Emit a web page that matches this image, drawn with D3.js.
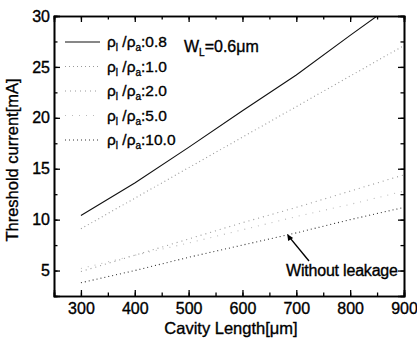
<!DOCTYPE html>
<html><head><meta charset="utf-8">
<script src="https://cdn.jsdelivr.net/npm/d3@7"></script>
<style>body{margin:0;background:#fff}svg{display:block}text{font-family:"Liberation Sans",Arial,sans-serif;fill:#000;stroke:#000;stroke-width:0.35px}</style>
</head><body><svg id="c" width="417" height="343"></svg>
<script>
const lengths = [300, 400, 500, 600, 700, 800, 900];
const s08 = [10.4, 13.6, 17.1, 20.7, 24.2, 28.1, 31.9];
const s10 = [9.1, 12.1, 15.1, 18.1, 21.1, 24.1, 27.1];
const s20 = [4.9, 6.5, 8.1, 9.7, 11.2, 12.8, 14.4];
const s50 = [5.2, 6.5, 7.7, 9.0, 10.3, 11.5, 12.8];
const s100 = [3.8, 5.0, 6.3, 7.5, 8.7, 10.0, 11.2];
const ratioLabels = ["0.8", "1.0", "2.0", "5.0", "10.0"];
const xTicks = [300, 400, 500, 600, 700, 800, 900];
const yTicks = [5, 10, 15, 20, 25, 30];

const svg = d3.select("#c");
const L = 54, R = 404, T = 16, B = 296;
const x = d3.scaleLinear().domain([250, 900]).range([L, R]);
const y = d3.scaleLinear().domain([2.5, 30]).range([B, T]);

const defs = svg.append("defs");
defs.append("clipPath").attr("id", "clip").append("rect").attr("x", L).attr("y", T).attr("width", R - L).attr("height", B - T);

const styles = [
  {stroke: "#111", width: 1.1, dash: null},
  {stroke: "#999", width: 1.1, dash: "1,3"},
  {stroke: "#999", width: 1.1, dash: "1,4"},
  {stroke: "#bbb", width: 1.1, dash: "1,6"},
  {stroke: "#333", width: 1.1, dash: "1,3"}
];
const series = [s08, s10, s20, s50, s100];
const line = d3.line().x((d, i) => x(lengths[i])).y(d => y(d));
const g = svg.append("g").attr("clip-path", "url(#clip)");
series.forEach((s, k) => {
  g.append("path").datum(s).attr("d", line).attr("fill", "none")
    .attr("stroke", styles[k].stroke).attr("stroke-width", styles[k].width)
    .attr("stroke-dasharray", styles[k].dash);
});

// axes
const xMinor = d3.range(250, 901, 50);
const yMinor = d3.range(2.5, 30.01, 2.5);
const ax = [];
ax.push(svg.append("g").attr("transform", `translate(0,${B})`).call(d3.axisBottom(x).tickValues(xTicks).tickSize(-6).tickPadding(7).tickFormat(d3.format("d"))));
ax.push(svg.append("g").attr("transform", `translate(0,${B})`).call(d3.axisBottom(x).tickValues(xMinor).tickSize(-3.5).tickFormat("")));
ax.push(svg.append("g").attr("transform", `translate(0,${T})`).call(d3.axisTop(x).tickValues(xTicks).tickSize(-6).tickFormat("")));
ax.push(svg.append("g").attr("transform", `translate(0,${T})`).call(d3.axisTop(x).tickValues(xMinor).tickSize(-3.5).tickFormat("")));
ax.push(svg.append("g").attr("transform", `translate(${L},0)`).call(d3.axisLeft(y).tickValues(yTicks).tickSize(-6).tickPadding(4).tickFormat(d3.format("d"))));
ax.push(svg.append("g").attr("transform", `translate(${L},0)`).call(d3.axisLeft(y).tickValues(yMinor).tickSize(-3.5).tickFormat("")));
ax.push(svg.append("g").attr("transform", `translate(${R},0)`).call(d3.axisRight(y).tickValues(yTicks).tickSize(-6).tickFormat("")));
ax.push(svg.append("g").attr("transform", `translate(${R},0)`).call(d3.axisRight(y).tickValues(yMinor).tickSize(-3.5).tickFormat("")));
ax.forEach(a => {
  a.select(".domain").attr("stroke", "#000").attr("stroke-width", 1.6);
  a.selectAll(".tick line").attr("stroke", "#000").attr("stroke-width", 1.3);
  a.selectAll(".tick text").style("font-size", "16px").attr("font-family", "Liberation Sans, Arial, sans-serif");
});

// axis titles
svg.append("text").attr("x", 231).attr("y", 334).attr("text-anchor", "middle").style("font-size", "16.5px").text("Cavity Length[μm]");
svg.append("text").attr("transform", `translate(18,160) rotate(-90)`).attr("text-anchor", "middle").style("font-size", "16.5px").text("Threshold current[mA]");

// legend
const ly0 = 42, ldy = 24.5;
ratioLabels.forEach((lab, k) => {
  const yy = ly0 + k * ldy;
  svg.append("line").attr("x1", 65).attr("x2", 100).attr("y1", yy).attr("y2", yy)
    .attr("stroke", styles[k].stroke).attr("stroke-width", styles[k].width).attr("stroke-dasharray", styles[k].dash);
  const t = svg.append("text").attr("x", 107).attr("y", yy + 5).style("font-size", "15.5px");
  t.append("tspan").text("ρ");
  t.append("tspan").attr("dy", 4).style("font-size", "10px").text("l");
  t.append("tspan").attr("dy", -4).text(" /ρ");
  t.append("tspan").attr("dy", 4).style("font-size", "10px").text("a");
  t.append("tspan").attr("dy", -4).text(":" + lab);
});

const w = svg.append("text").attr("x", 184).attr("y", 52).style("font-size", "16px");
w.append("tspan").text("W");
w.append("tspan").attr("dy", 4).style("font-size", "10px").text("L");
w.append("tspan").attr("dy", -4).text("=0.6μm");

// annotation
svg.append("text").attr("x", 286).attr("y", 276).style("font-size", "16px").attr("letter-spacing", "-0.2").text("Without leakage");
const tipX = x(683), tipY = y(8.6);
svg.append("line").attr("x1", 309).attr("y1", 261).attr("x2", tipX + 2).attr("y2", tipY + 3).attr("stroke", "#000").attr("stroke-width", 1.4);
svg.append("path").attr("d", d3.line()([[tipX, tipY], [tipX + 1, tipY + 7], [tipX + 6, tipY + 4]])).attr("fill", "#000");
</script></body></html>
